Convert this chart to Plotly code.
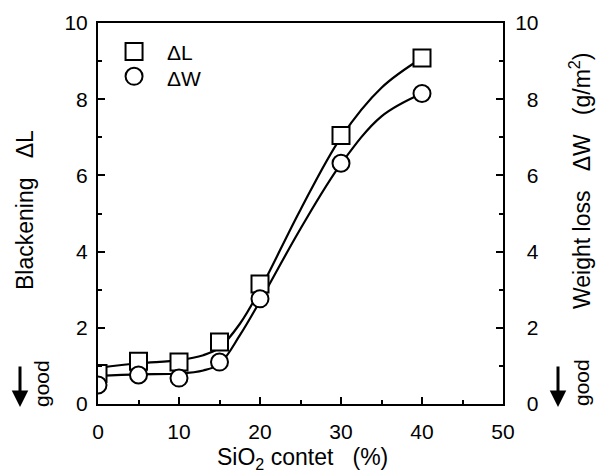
import plotly.graph_objects as go

# measured points
sio2 = [0, 5, 10, 15, 20, 30, 40]
delta_l = [0.80, 1.12, 1.10, 1.63, 3.15, 7.05, 9.08]
delta_w = [0.50, 0.76, 0.68, 1.10, 2.76, 6.32, 8.15]

# hand-drawn fit curves
curve_x = [0, 5, 10, 13, 15, 17.5, 20, 25, 30, 35, 40]
curve_l = [0.95, 1.07, 1.15, 1.28, 1.48, 2.1, 3.0, 5.1, 7.0, 8.3, 9.08]
curve_w = [0.74, 0.78, 0.8, 0.88, 1.05, 1.8, 2.7, 4.6, 6.3, 7.55, 8.15]

y_ticks = [0, 2, 4, 6, 8, 10]
y_ticktext_right = ["\u20070", "\u20072", "\u20074", "\u20076", "\u20078", "10"]
x_ticks = [0, 10, 20, 30, 40, 50]

font = "Liberation Sans, Arial, sans-serif"
BLACK = "black"

fig = go.Figure()
for cy in (curve_l, curve_w):
    fig.add_trace(go.Scatter(x=curve_x, y=cy, mode="lines", showlegend=False, hoverinfo="skip",
                             line=dict(color=BLACK, width=2.2, shape="spline", smoothing=1.0)))
fig.add_trace(go.Scatter(x=sio2, y=delta_l, mode="markers", name="ΔL",
                         marker=dict(symbol="square", size=17, color="white", line=dict(width=2, color=BLACK))))
fig.add_trace(go.Scatter(x=sio2, y=delta_w, mode="markers", name="ΔW",
                         marker=dict(symbol="circle", size=17, color="white", line=dict(width=2, color=BLACK))))
# legend markers
fig.add_trace(go.Scatter(x=[4.45], y=[9.25], mode="markers", showlegend=False,
                         marker=dict(symbol="square", size=17, color="white", line=dict(width=2, color=BLACK))))
fig.add_trace(go.Scatter(x=[4.45], y=[8.6], mode="markers", showlegend=False,
                         marker=dict(symbol="circle", size=17, color="white", line=dict(width=2, color=BLACK))))
fig.add_trace(go.Scatter(x=[None], y=[None], yaxis="y2", showlegend=False))

axis_common = dict(showgrid=False, zeroline=False, showline=True, linecolor=BLACK, linewidth=2,
                   ticks="inside", ticklen=7, tickwidth=2, tickcolor=BLACK,
                   tickfont=dict(family=font, size=21, color=BLACK))
minor_common = dict(ticks="inside", ticklen=4, tickwidth=2, tickcolor=BLACK)

W, H = 598, 473
pl, pr, pt, pb = 98, 95, 23, 69
pw, ph = W - pl - pr, H - pt - pb

fig.update_layout(
    width=W, height=H,
    margin=dict(l=pl, r=pr, t=pt, b=pb),
    paper_bgcolor="white", plot_bgcolor="white",
    showlegend=False,
    xaxis=dict(range=[0, 50], tickvals=x_ticks, mirror=True, ticklabelstandoff=8,
               minor=dict(tickvals=[5, 15, 25, 35, 45], **minor_common), **axis_common),
    yaxis=dict(range=[0, 10], tickvals=y_ticks, ticklabelstandoff=4,
               minor=dict(tickvals=[1, 3, 5, 7, 9], **minor_common), **axis_common),
    yaxis2=dict(range=[0, 10], tickvals=y_ticks, ticktext=y_ticktext_right, overlaying="y", side="right",
                ticklabelstandoff=6,
                minor=dict(tickvals=[1, 3, 5, 7, 9], **minor_common), **axis_common),
)


def px(xp):
    return (xp - pl) / pw


def py(yp):
    return (H - pb - yp) / ph


def txt(x, y, text, size=21, angle=0, xanchor="center"):
    fig.add_annotation(x=px(x), y=py(y), xref="paper", yref="paper", text=text, textangle=angle,
                       showarrow=False, xanchor=xanchor, yanchor="middle",
                       font=dict(family=font, size=size, color=BLACK))


txt(165, 53, "ΔL", xanchor="left")
txt(165, 78, "ΔW", xanchor="left")
txt(302, 458, "SiO<sub>2</sub> contet   (%)", size=23)
txt(25, 210, "Blackening   ΔL", size=23, angle=-90)
txt(580, 181, "Weight loss   ΔW   (g/m<sup>2</sup>)", size=23, angle=-90)
for gx, axp in [(41, 20), (581, 558)]:
    txt(gx, 383, "good", size=21, angle=-90)
    fig.add_annotation(x=px(axp), y=py(407), xref="paper", yref="paper", ax=0, ay=-42,
                       text="", showarrow=True,
                       arrowhead=2, arrowsize=1.1, arrowwidth=3, arrowcolor=BLACK)

fig.write_html("out.html", config={"displayModeBar": False},
               post_script="document.body.style.margin='0';document.body.style.overflow='hidden';")
